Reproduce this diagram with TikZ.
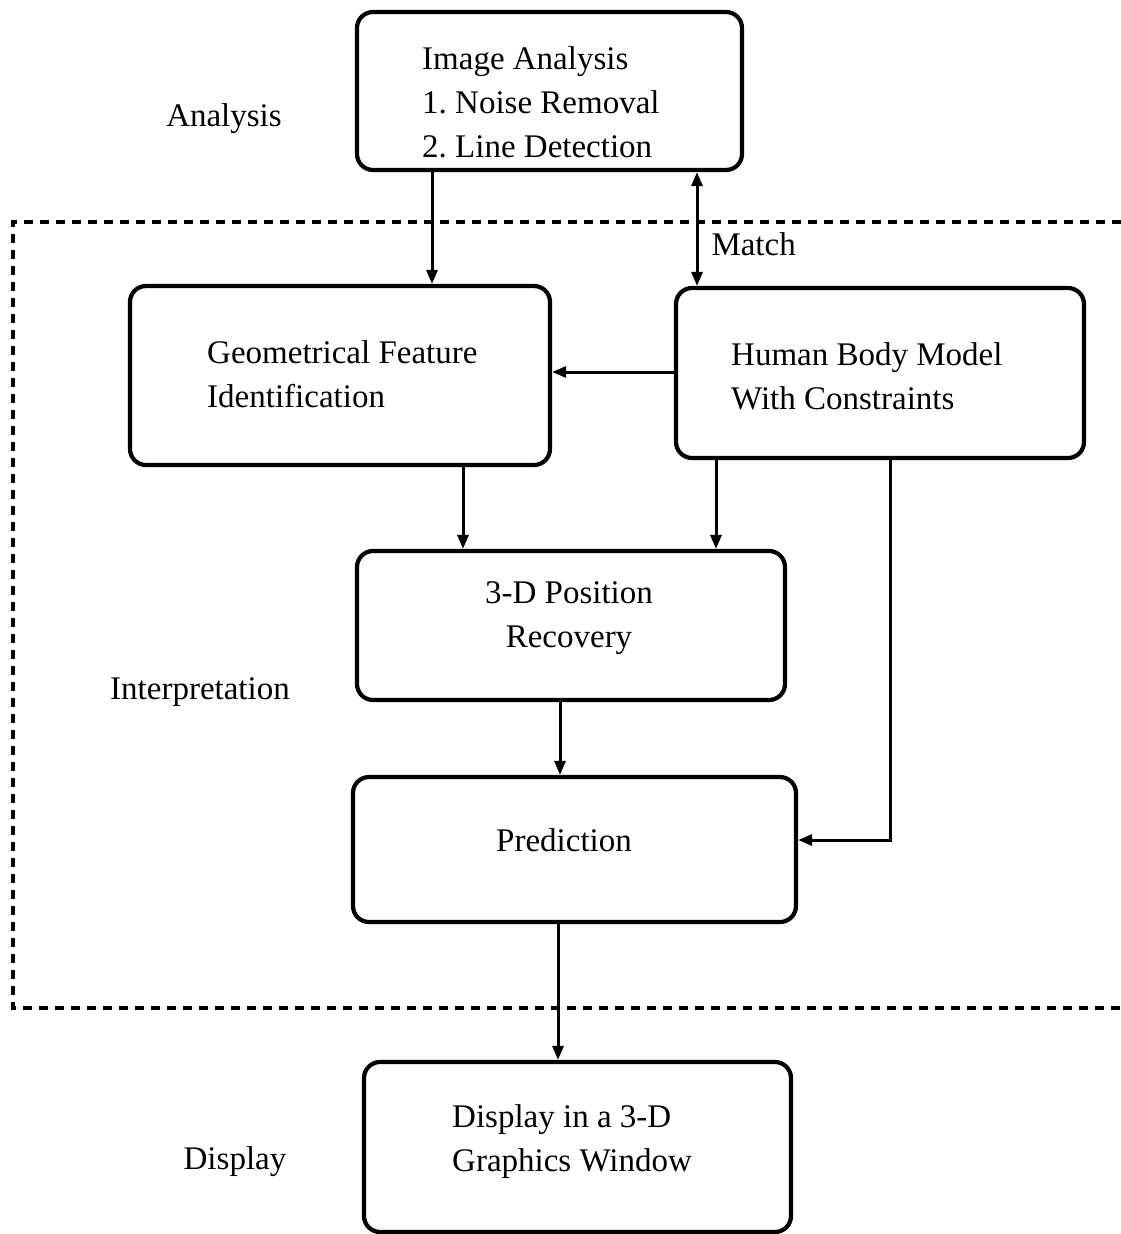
\documentclass[tikz,border=0pt]{standalone}
\usepackage{fontspec}
\setmainfont{Liberation Serif}
\usetikzlibrary{arrows.meta,calc}
\begin{document}
\frenchspacing
\begin{tikzpicture}[x=1pt,y=-1pt,
  box/.style={draw, line width=4.2pt, rounded corners=16pt, inner sep=0pt},
  txt/.style={inner sep=0pt, align=left, anchor=west},
  arr/.style={line width=3pt, -{Triangle[length=14pt,width=11pt]}},
  darr/.style={line width=3pt, {Triangle[length=14pt,width=11pt]}-{Triangle[length=14pt,width=11pt]}},
  lbl/.style={inner sep=0pt},
  every node/.style={font=\fontsize{33}{44}\selectfont}]
\useasboundingbox (0,0) rectangle (1121,1234);
% dashed interpretation frame
\draw[line width=3.5pt, dash pattern=on 9pt off 7pt] (1121,222) -- (13,222) -- (13,1008) -- (1121,1008);
% boxes
\node[box, minimum width=385pt, minimum height=158pt] (ia) at (549.5,91) {};
\node[box, minimum width=420pt, minimum height=179pt] (gf) at (340,375.5) {};
\node[box, minimum width=408pt, minimum height=170pt] (hb) at (880,373) {};
\node[box, minimum width=428pt, minimum height=149pt] (pr) at (571,625.5) {};
\node[box, minimum width=443pt, minimum height=145pt] (pd) at (574.5,849.5) {};
\node[box, minimum width=427pt, minimum height=170pt] (dp) at (577.5,1147) {};
% box texts
\node[txt] (tia) at (422,102) {Image Analysis\\1. Noise Removal\\2. Line Detection};
\node[txt] (tgf) at (207,374) {Geometrical Feature\\Identification};
\node[txt] (thb) at (731,376) {Human Body Model\\With Constraints};
\node[lbl, align=center] (tpr) at (569,618) {3-D Position\\Recovery};
\node[lbl] (tpd) at (564,840) {Prediction};
\node[txt] (tdp) at (452,1142) {Display in a 3-D\\Graphics Window};
% side labels
\node[lbl] (la) at (224,119) {Analysis};
\node[lbl] (li) at (200,692) {Interpretation};
\node[lbl] (ld) at (235,1162) {Display};
% helper coordinates
\coordinate (x1) at (432,0);
\coordinate (x2) at (697,0);
\coordinate (x3) at (463,0);
\coordinate (x4) at (716,0);
\coordinate (x5) at (560,0);
\coordinate (x6) at (558,0);
\coordinate (y1) at (0,372);
\coordinate (k) at (890,840);
% connectors
\draw[arr] (ia.south -| x1) -- (gf.north -| x1);
\draw[darr] (ia.south -| x2) -- (hb.north -| x2) node[lbl, pos=0.63, anchor=west, xshift=13pt] (match) {Match};
\draw[arr] (hb.west |- y1) -- (gf.east |- y1);
\draw[arr] (gf.south -| x3) -- (pr.north -| x3);
\draw[arr] (hb.south -| x4) -- (pr.north -| x4);
\draw[arr] (hb.south -| k) -- (k) -- (pd.east |- k);
\draw[arr] (pr.south -| x5) -- (pd.north -| x5);
\draw[arr] (pd.south -| x6) -- (dp.north -| x6);
\end{tikzpicture}
\end{document}
